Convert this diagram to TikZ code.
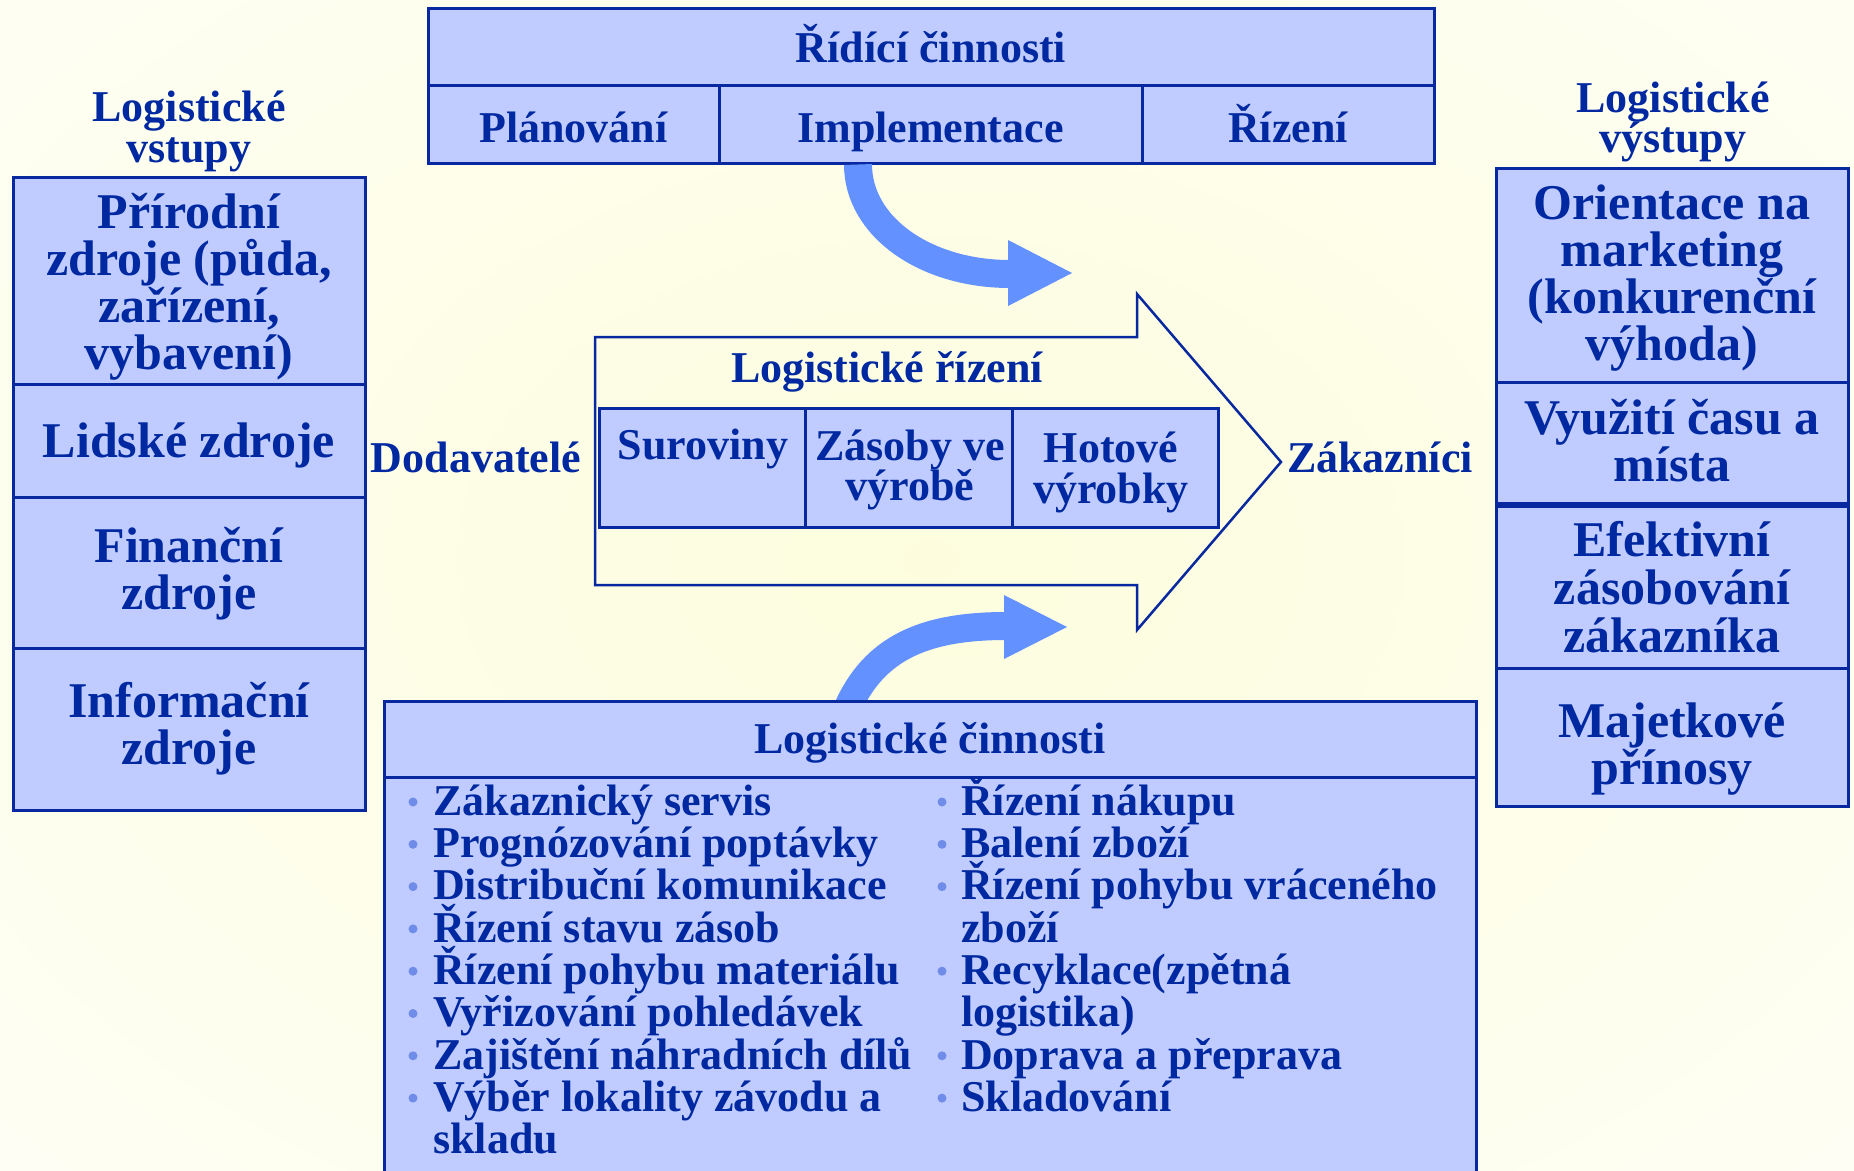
\documentclass[tikz,border=0pt]{standalone}
\usepackage{fontspec}
\setmainfont{Liberation Serif}
\definecolor{txt}{RGB}{0,40,160}
\definecolor{boxfill}{RGB}{192,204,255}
\definecolor{boxline}{RGB}{8,40,160}
\definecolor{arrowc}{RGB}{99,145,255}
\definecolor{bgc}{RGB}{253,253,222}
\definecolor{bullc}{RGB}{110,140,232}
\newcommand{\fst}{\rule[-0.3em]{0pt}{1.3em}}
\lineskiplimit=-100pt
\tikzset{
  box/.style={draw=boxline, fill=boxfill, line width=3pt, inner sep=0pt},
  lbl/.style={text=txt, inner sep=0pt, anchor=north, align=center},
  fbig/.style={font=\fontsize{50}{47}\selectfont\bfseries},
  fmid/.style={font=\fontsize{44}{42}\selectfont\bfseries},
  shaft/.style={draw=arrowc, line width=28pt},
  bigarrow/.style={draw=boxline, line width=2.5pt, line join=miter},
  bulletdot/.style={circle, fill=bullc, inner sep=0pt, minimum size=9pt},
}
\begin{document}
\begin{tikzpicture}[x=1pt,y=-1pt]
\useasboundingbox (0,0) rectangle (1854,1170);
\clip (0,0) rectangle (1854,1170);
% background
\fill[white] (0,0) rectangle (1854,1170);
\shade[inner color=bgc, outer color=white] (930,560) ellipse [x radius=1900pt, y radius=1300pt];

% top box (control activities)
\node[box, minimum width=1006pt, minimum height=77pt] (ridici) at (931,46.5) {};
\node[box, minimum width=291pt, minimum height=78pt] (plan) at (573.5,124) {};
\node[box, minimum width=423pt, minimum height=78pt] (impl) at (930.5,124) {};
\node[box, minimum width=292pt, minimum height=78pt] (riz) at (1288,124) {};

% bottom box (logistic activities)
\node[box, minimum width=1092pt, minimum height=420pt] (lbody) at (930,987) {};
\node[box, minimum width=1092pt, minimum height=76pt] (lcin) at (930,739) {};

% curved arrows
\coordinate (headA) at (1010,274);
\coordinate (headB) at (1006,626);
\draw[shaft] ([xshift=-72.5pt]impl.south) .. controls +(0,62) and +(-85,0) .. (headA);
\fill[arrowc] (1008,240) -- (1072,273) -- (1008,306) -- cycle;
\begin{scope}
\clip (0,0) rectangle (1854,699.5);
\draw[shaft] ([xshift=-83pt,yshift=-10pt]lcin.north) .. controls +(27,-62) and +(-81,0) .. (headB);
\end{scope}
\fill[arrowc] (1004,595) -- (1067,627) -- (1004,659) -- cycle;

% big flow arrow
\draw[bigarrow] (595,337) -- (1137,337) -- (1137,294) -- (1281,462) -- (1137,630) -- (1137,585) -- (595,585) -- cycle;

% inner boxes
\node[box, minimum width=206pt, minimum height=119pt] (sur) at (702,467.5) {};
\node[box, minimum width=207pt, minimum height=119pt] (zas) at (908.5,467.5) {};
\node[box, minimum width=206pt, minimum height=119pt] (hot) at (1115,467.5) {};

% left boxes
\node[box, minimum width=352pt, minimum height=207pt] (nat) at (189,280.5) {};
\node[box, minimum width=352pt, minimum height=113pt] (lid) at (189,440.5) {};
\node[box, minimum width=352pt, minimum height=151pt] (fin) at (189,572.5) {};
\node[box, minimum width=352pt, minimum height=162pt] (inf) at (189,729) {};

% right boxes
\node[box, minimum width=352pt, minimum height=214pt] (orient) at (1672,275) {};
\node[box, minimum width=352pt, minimum height=121pt] (vyuz) at (1672,442.5) {};
\node[box, minimum width=352pt, minimum height=162pt] (efekt) at (1672,587) {};
\node[box, minimum width=352pt, minimum height=138pt] (majet) at (1672,737) {};

% texts: top
\node[lbl, fmid] (ridiciT) at (931,18) {\fst Řídící činnosti};
\node[lbl, fmid] (planT) at (573.5,98) {\fst Plánování};
\node[lbl, fmid] (implT) at (930.5,98) {\fst Implementace};
\node[lbl, fmid] (rizT) at (1288,98) {\fst Řízení};

% headers
\node[lbl, font=\fontsize{44}{41}\selectfont\bfseries] (vstupT) at (189,77) {\fst Logistické\\vstupy};
\node[lbl, font=\fontsize{44}{40}\selectfont\bfseries] (vystupT) at (1673,68) {\fst Logistické\\výstupy};

% left box texts
\node[lbl, fbig] (natT) at (189,178) {\fst Přírodní\\zdroje (půda,\\zařízení,\\vybavení)};
\node[lbl, fbig] (lidT) at (189,407) {\fst Lidské zdroje};
\node[lbl, fbig] (finT) at (189,512) {\fst Finanční\\zdroje};
\node[lbl, fbig] (infT) at (189,667) {\fst Informační\\zdroje};

% right box texts
\node[lbl, fbig] (orientT) at (1672,169) {\fst Orientace na\\marketing\\(konkurenční\\výhoda)};
\node[lbl, fbig] (vyuzT) at (1672,384) {\fst Využití času a\\místa};
\node[lbl, font=\fontsize{50}{48}\selectfont\bfseries] (efektT) at (1672,506) {\fst Efektivní\\zásobování\\zákazníka};
\node[lbl, fbig] (majetT) at (1672,687) {\fst Majetkové\\přínosy};

% middle texts
\node[lbl, fmid] (dodT) at (476,428) {\fst Dodavatelé};
\node[lbl, fmid] (zakT) at (1380,428) {\fst Zákazníci};
\node[lbl, fmid] (logrizT) at (887,338) {\fst Logistické řízení};
\node[lbl, fmid] (surT) at (703,415) {\fst Suroviny};
\node[lbl, font=\fontsize{44}{40}\selectfont\bfseries] (zasT) at (910,416) {\fst Zásoby ve\\výrobě};
\node[lbl, font=\fontsize{44}{41}\selectfont\bfseries] (hotT) at (1111,418) {\fst Hotové\\výrobky};

% bottom texts
\node[lbl, fmid] (lcinT) at (930,709) {\fst Logistické činnosti};
\node[lbl, anchor=north west, align=left, font=\fontsize{44}{42.3}\selectfont\bfseries] (listL) at (433,771)
 {\fst Zákaznický servis\\Prognózování poptávky\\Distribuční komunikace\\Řízení stavu zásob\\Řízení pohybu materiálu\\Vyřizování pohledávek\\Zajištění náhradních dílů\\Výběr lokality závodu a\\skladu};
\node[lbl, anchor=north west, align=left, font=\fontsize{44}{42.3}\selectfont\bfseries] (listR) at (961,771)
 {\fst Řízení nákupu\\Balení zboží\\Řízení pohybu vráceného\\zboží\\Recyklace(zpětná\\logistika)\\Doprava a přeprava\\Skladování};

% bullets
\foreach \k in {0,...,7} {
  \node[bulletdot] (bl\k) at (413,802+42.3*\k) {};
}
\foreach \k in {0,1,2,4,6,7} {
  \node[bulletdot] (br\k) at (942,802+42.3*\k) {};
}
\end{tikzpicture}
\end{document}
